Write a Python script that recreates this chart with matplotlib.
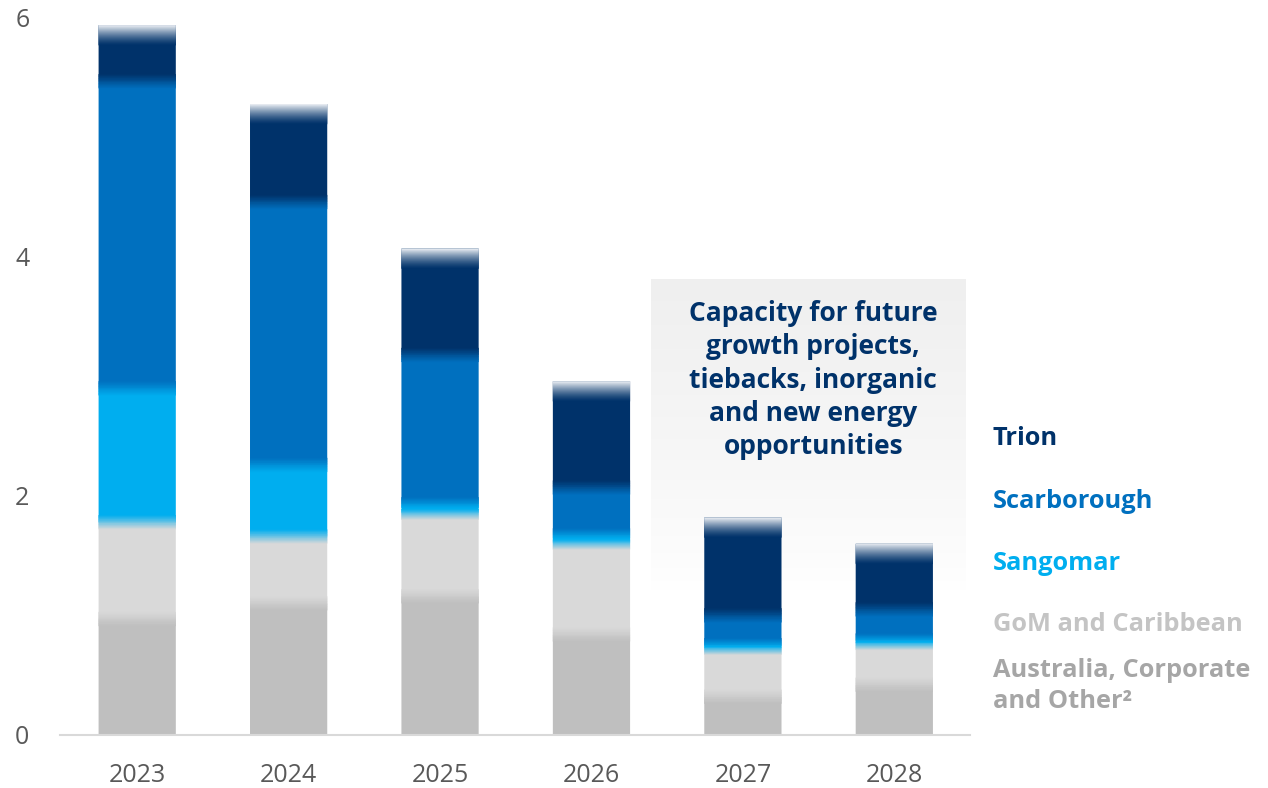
import numpy as np
import matplotlib
matplotlib.use("Agg")
import matplotlib.pyplot as plt
from matplotlib.colors import to_rgba

plt.rcParams['font.family'] = ['Open Sans', 'DejaVu Sans']

years = ["2023", "2024", "2025", "2026", "2027", "2028"]
series_names = ["Australia, Corporate\nand Other²", "GoM and Caribbean", "Sangomar", "Scarborough", "Trion"]
australia = [0.97, 1.10, 1.16, 0.84, 0.32, 0.42]
gom = [0.81, 0.56, 0.70, 0.77, 0.41, 0.35]
sangomar = [1.12, 0.60, 0.07, 0.06, 0.02, 0.02]
scarborough = [2.57, 2.20, 1.25, 0.40, 0.25, 0.26]
trion = [0.47, 0.82, 0.89, 0.89, 0.82, 0.55]

bar_colors = ["#BFBFBF", "#D9D9D9", "#00AEEF", "#0070BF", "#00326A"]
label_colors = ["#A6A6A6", "#C4C4C4", "#00AEEF", "#0070BF", "#00326A"]

BAR_W = 0.51
FADE = 0.06  # half width of the soft blend between stacked segments
TOP_FADE = 0.17


def vgrad(ax, x, y0, y1, c0, c1, n=20, gamma=1.0):
    # blend drawn as thin stacked bars so edges line up with the main bars
    c0 = np.array(to_rgba(c0))
    c1 = np.array(to_rgba(c1))
    h = (y1 - y0) / n
    for j in range(n):
        t = ((j + 0.5) / n) ** gamma
        col = c0 * (1 - t) + c1 * t
        last = j == n - 1
        hh = h if last else h * 1.6
        b = ax.bar(x, hh, BAR_W, bottom=y0 + j * h, color=col, linewidth=0, zorder=3)
        b.patches[0].set_snap(False)


fig = plt.figure(figsize=(12.68, 7.88), dpi=100)
ax = fig.add_axes([0.0473, 0.0673, 0.7177, 0.9099])

x = np.arange(len(years))
stack = [australia, gom, sangomar, scarborough, trion]
bottom = np.zeros(len(years))
for vals, col in zip(stack, bar_colors):
    bars = ax.bar(x, vals, BAR_W, bottom=bottom, color=col, linewidth=0, zorder=2)
    for p in bars.patches:
        p.set_snap(False)
    bottom += np.array(vals)

# soft transitions between segments
for i in range(len(years)):
    b = 0.0
    for k in range(len(stack) - 1):
        b += stack[k][i]
        lo = min(FADE, 0.45 * stack[k][i])
        hi = min(FADE, 0.45 * stack[k + 1][i])
        vgrad(ax, x[i], b - lo, b + hi, bar_colors[k], bar_colors[k + 1])
    top = b + stack[-1][i]
    vgrad(ax, x[i], top - TOP_FADE, top, bar_colors[-1], "#EEF1F5", gamma=1.4)

# shaded "capacity" box
t = np.linspace(0, 1, 64)[:, None]
box = np.ones((64, 1, 4))
box[:, 0, :3] = 0.999 - (0.999 - 0.938) * t ** 0.8
ax.imshow(box, extent=[3.39, 5.47, 1.21, 3.81], origin="lower", aspect="auto",
          interpolation="bilinear", zorder=0)
ax.text(4.465, 2.97, "Capacity for future\ngrowth projects,\ntiebacks, inorganic\nand new energy\nopportunities",
        ha="center", va="center", fontsize=19, fontweight="bold", color="#00326A",
        linespacing=1.3, zorder=4)

ax.set_xlim(-0.51, 5.50)
ax.set_ylim(0, 6)
ax.set_xticks(x)
ax.set_xticklabels(years)
ax.set_yticks([0, 2, 4, 6])
ax.tick_params(axis="both", length=0, labelsize=18, labelcolor="#595959")
ax.tick_params(axis="y", pad=22)
ax.tick_params(axis="x", pad=20)
for s in ["top", "right", "left"]:
    ax.spines[s].set_visible(False)
ax.spines["bottom"].set_color("#D9D9D9")
ax.spines["bottom"].set_linewidth(1.5)

# series labels on the right
label_y = [0.129, 0.207, 0.285, 0.363, 0.443]
for name, col, yy in zip(series_names, label_colors, label_y):
    fig.text(0.783, yy, name, color=col, fontsize=18.3, fontweight="bold",
             ha="left", va="center", linespacing=1.3)

fig.savefig("out.png", dpi=100)
